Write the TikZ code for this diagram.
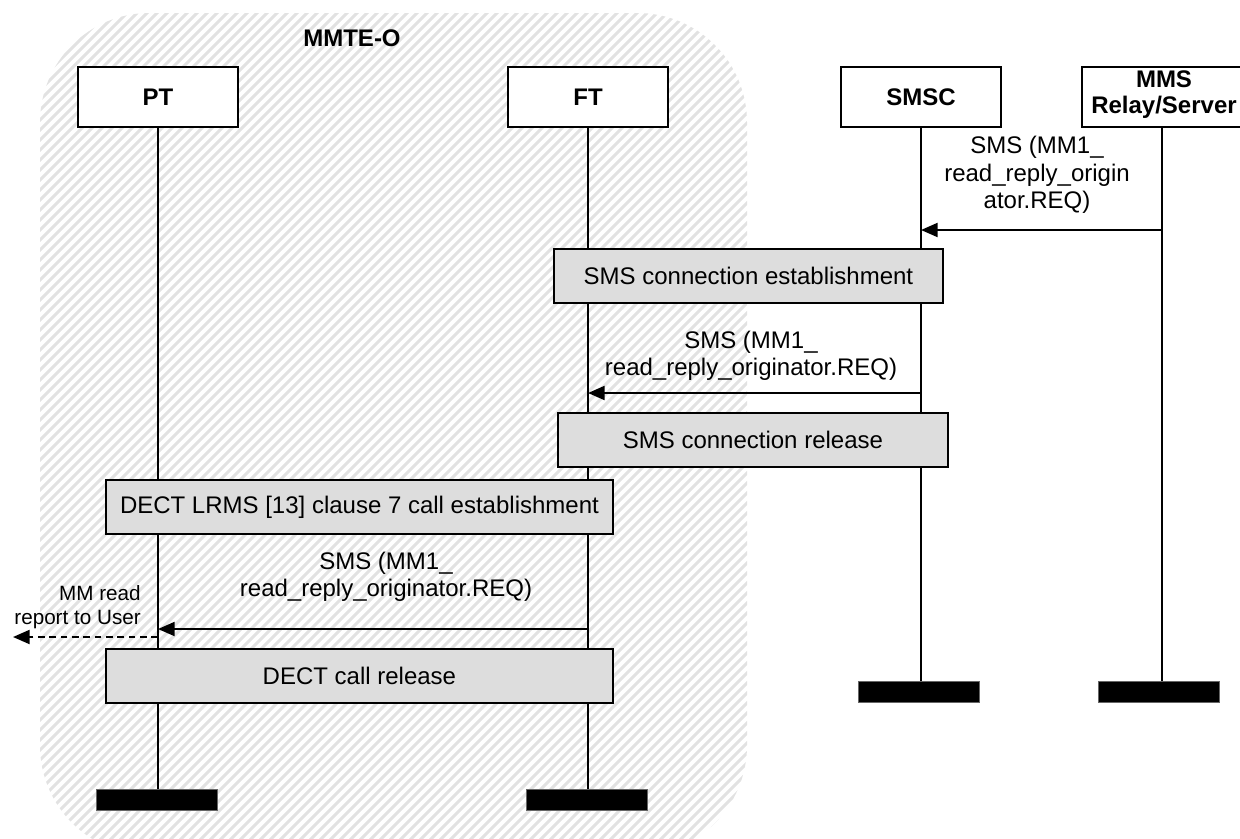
\documentclass[tikz,border=0pt]{standalone}
\usepackage{fontspec}
\setmainfont{Liberation Sans}
\usetikzlibrary{arrows.meta}
\definecolor{boxgray}{RGB}{221,221,221}
\definecolor{hatchgray}{RGB}{226,226,226}
\begin{document}
\begin{tikzpicture}[x=0.75pt,y=-0.75pt,
  every node/.style={font=\fontsize{18}{20.5}\selectfont},
  hdr/.style={draw, line width=1.5pt, fill=white, minimum width=120pt, minimum height=45pt, inner sep=0pt, align=center, font=\fontsize{18}{20}\selectfont\bfseries},
  endbar/.style={fill=black, draw=black!60, line width=0.6pt, minimum width=91pt, minimum height=16pt, inner sep=0pt},
  life/.style={line width=1.5pt},
  procbox/.style={draw, line width=1.4pt, fill=boxgray, inner sep=0pt, anchor=north west},
  msg/.style={line width=1.6pt, -{Triangle[length=12.5pt,width=10.5pt]}},
  note/.style={dashed, dash pattern=on 5pt off 3.5pt, line width=1.6pt, -{Triangle[length=12.5pt,width=10.5pt]}},
  lbl/.style={align=center, inner sep=0pt},
  hatchline/.style={draw=hatchgray, line width=2.2pt}]
\useasboundingbox (0,0) rectangle (1240,839);
\clip (0,0) rectangle (1240,839);

% hatched terminal area
\begin{scope}
  \clip[rounded corners=82pt] (40,13) rectangle (747,855);
  \foreach \i in {-830,-820,...,760}
    \draw[hatchline] (\i,870) -- ++(880,-880);
\end{scope}
\node[font=\fontsize{18}{20}\selectfont\bfseries] (mmte) at (352,38) {MMTE-O};

% entities
\node[hdr] (pt) at (158,97) {PT};
\node[hdr] (ft) at (588,97) {FT};
\node[hdr] (smsc) at (921,97) {SMSC};
\node[hdr] (mms) at (1162,97) {};
\node[align=center, inner sep=0pt, font=\fontsize{18}{19.5}\selectfont\bfseries] (mmst) at (1164,95) {MMS\\Relay/Server};

% end markers
\node[endbar] (ptend) at (157,800) {};
\node[endbar] (ftend) at (587,800) {};
\node[endbar] (smscend) at (919,692) {};
\node[endbar] (mmsend) at (1159,692) {};

% lifelines
\draw[life] (pt.south) -- (pt.south |- ptend.north);
\draw[life] (ft.south) -- (ft.south |- ftend.north);
\draw[life] (smsc.south) -- (smsc.south |- smscend.north);
\draw[life] (mms.south) -- (mms.south |- mmsend.north);

% message rows
\coordinate (r1) at (0,230);
\coordinate (r2) at (0,393);
\coordinate (r3) at (0,629);
\coordinate (r4) at (0,637);
\coordinate (userend) at (13,637);

% MMS Relay/Server -> SMSC
\node[lbl] (l1) at (1037,175) {SMS (MM1\_\\read\_reply\_origin\\ator.REQ)};
\draw[msg] (mms.south |- r1) -- (smsc.south |- r1);

% SMS connection establishment
\node[procbox, minimum width=291.75pt, minimum height=40.5pt] (est) at (553,248) {};
\node (estt) at (est.center) {SMS connection establishment};

% SMSC -> FT
\node[lbl] (l2) at (751,356) {SMS (MM1\_\\read\_reply\_originator.REQ)};
\draw[msg] (smsc.south |- r2) -- (ft.south |- r2);

% SMS connection release
\node[procbox, minimum width=292.5pt, minimum height=40.5pt] (rel) at (557,412) {};
\node (relt) at (rel.center) {SMS connection release};

% DECT call establishment
\node[procbox, minimum width=380.25pt, minimum height=40.5pt] (dest) at (105,479) {};
\node (destt) at (dest.center) {DECT LRMS [13] clause 7 call establishment};

% FT -> PT
\node[lbl] (l3) at (386,577) {SMS (MM1\_\\read\_reply\_originator.REQ)};
\draw[msg] (ft.south |- r3) -- (pt.south |- r3);

% indication to the user
\node[lbl, align=right, anchor=east, font=\fontsize{15.5}{18.5}\selectfont] (l4) at (141,607) {MM read\\report to User};
\draw[note] (pt.south |- r4) -- (userend);

% DECT call release
\node[procbox, minimum width=380.25pt, minimum height=40.5pt] (drel) at (105,648) {};
\node (drelt) at (drel.center) {DECT call release};
\end{tikzpicture}
\end{document}
